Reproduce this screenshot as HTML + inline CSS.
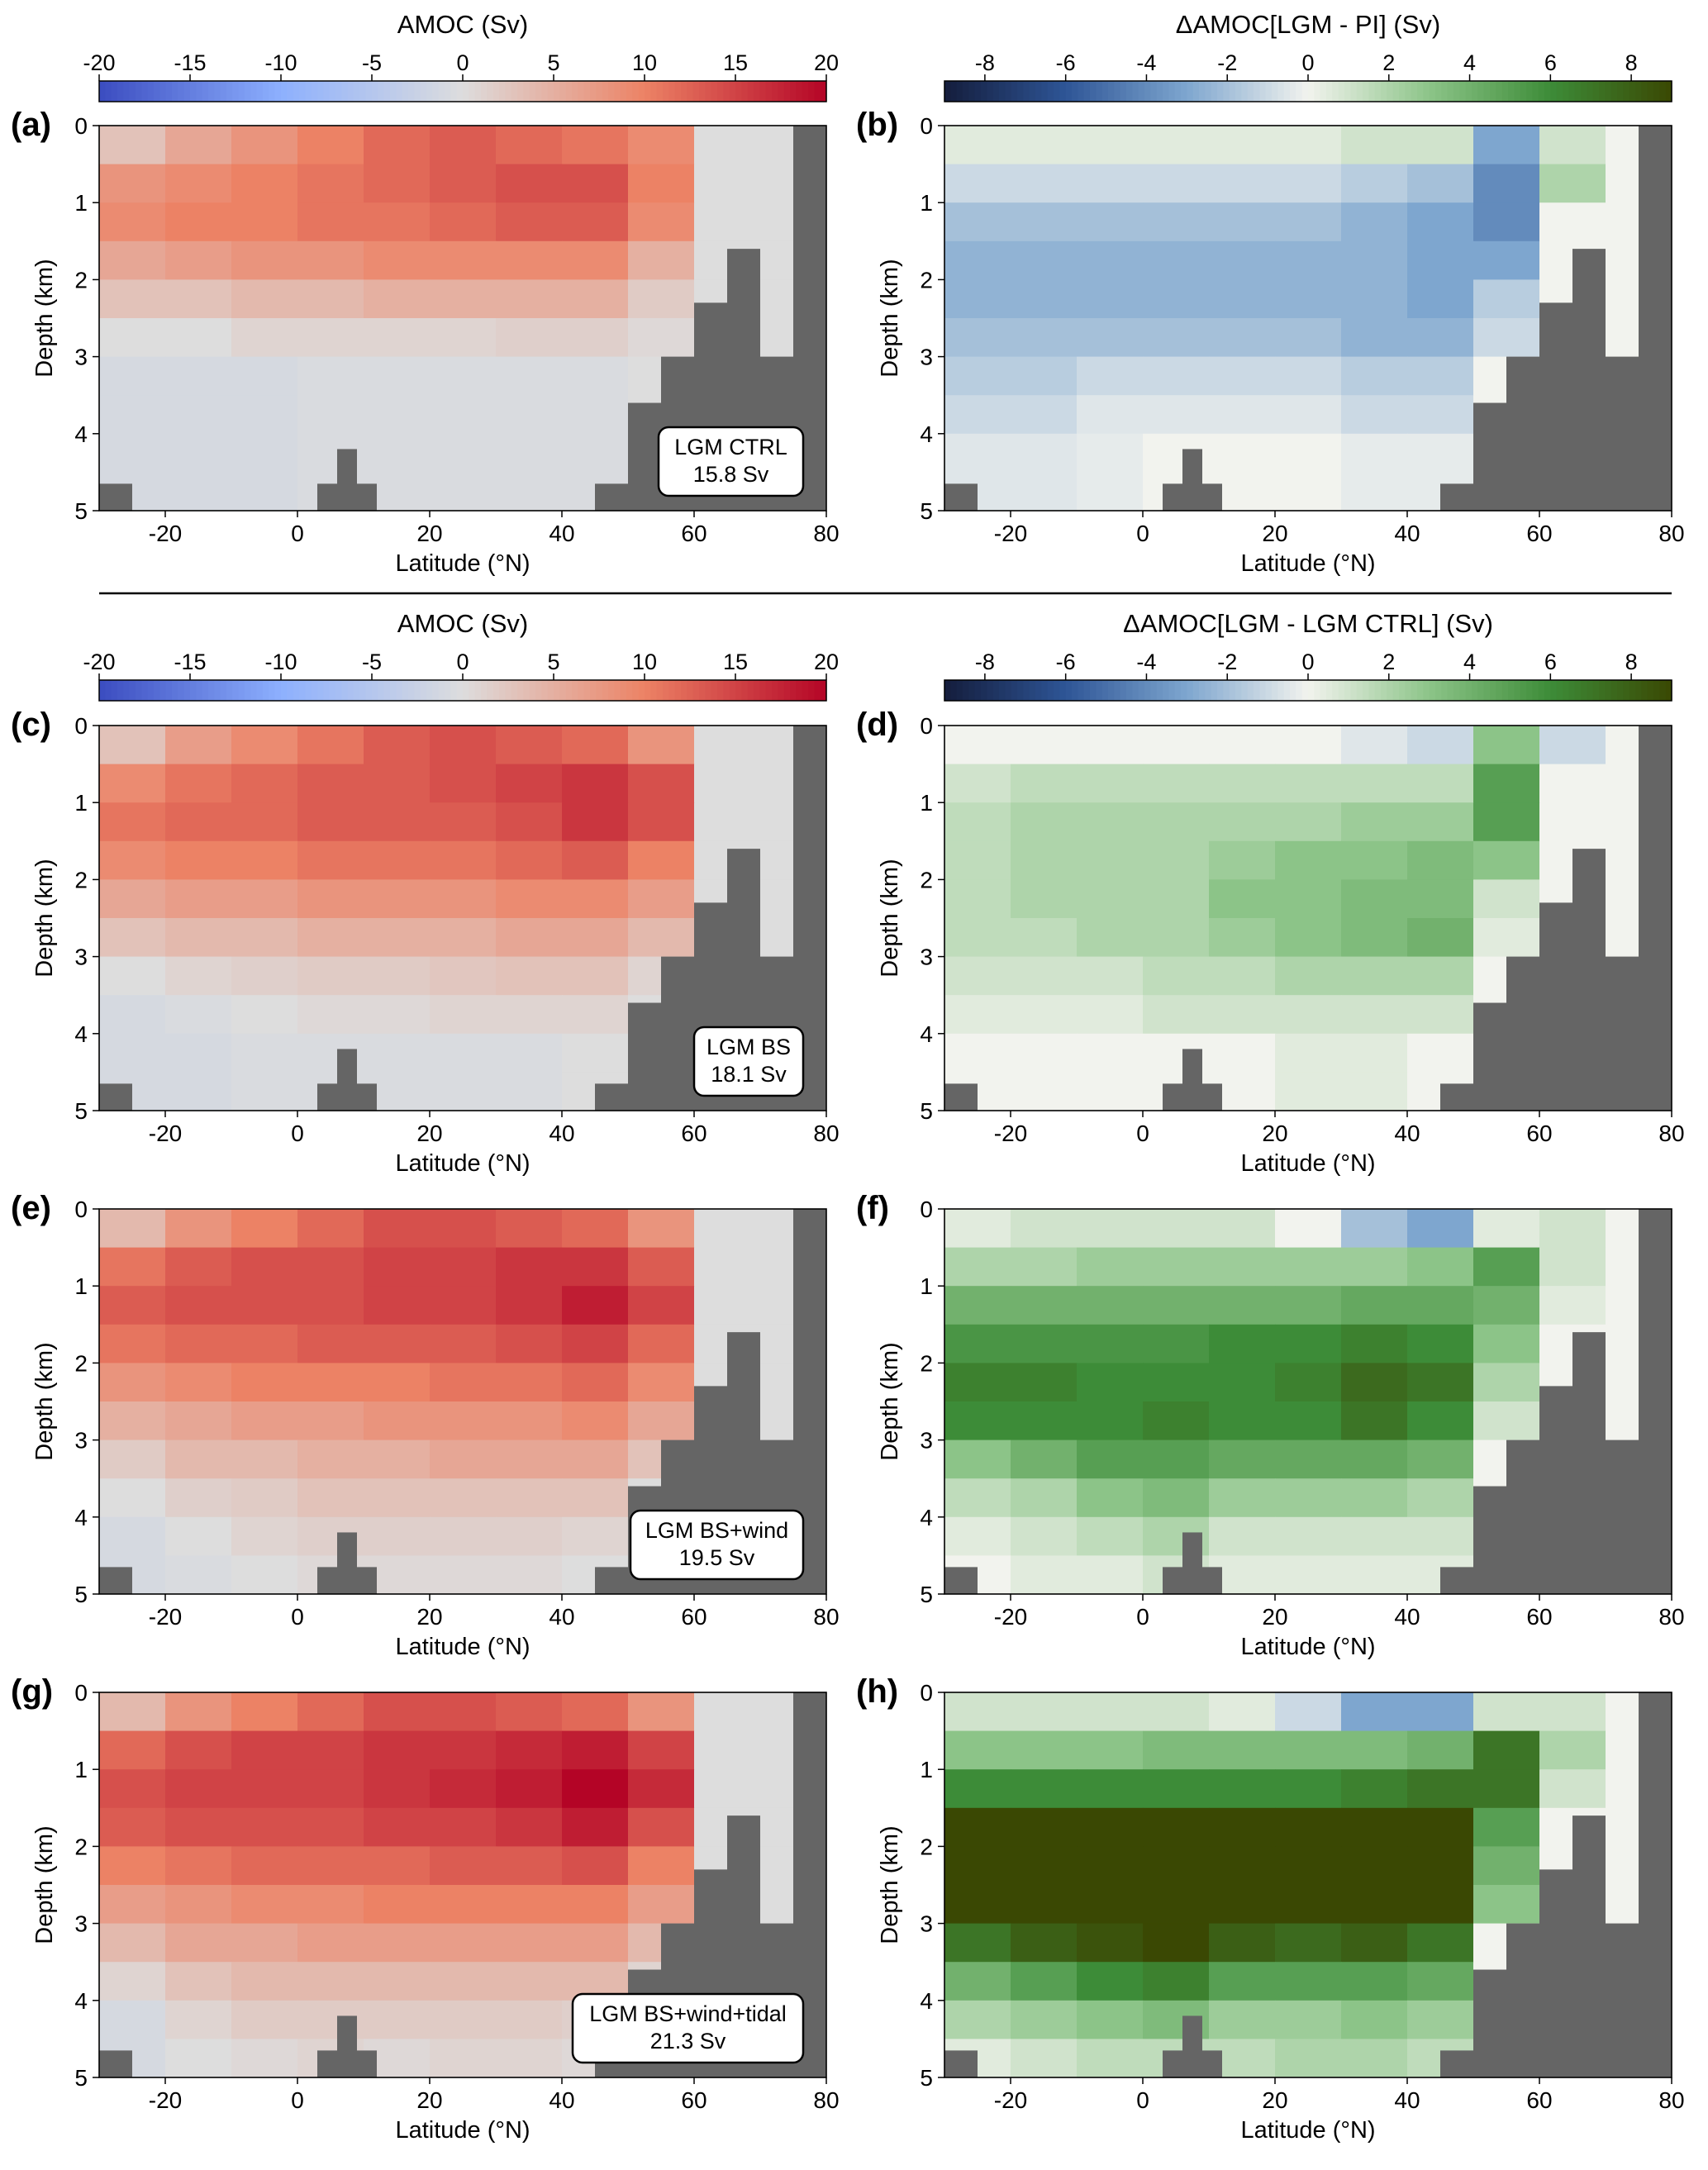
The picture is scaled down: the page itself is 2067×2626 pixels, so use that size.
<!DOCTYPE html>
<html><head><meta charset="utf-8"><style>
body{margin:0;background:#fff;}
svg{display:block;font-family:"Liberation Sans",sans-serif;}
</style></head><body>
<svg id="fig" width="2067" height="2626" viewBox="0 0 2067 2626" xmlns="http://www.w3.org/2000/svg"></svg>
<script>
const lats=[-25,-15,-5,5,15,25,35,45,55,65,75];
const depths=[0.25,0.75,1.25,1.75,2.25,2.75,3.25,3.75,4.25,4.75];
const xTicks=[-20,0,20,40,60,80];
const yTicks=[0,1,2,3,4,5];
const amocTicks=[-20,-15,-10,-5,0,5,10,15,20];
const diffTicks=[-8,-6,-4,-2,0,2,4,6,8];
const topo=[[-30,-25,4.65],[3,12,4.65],[6,9,4.2],[45,50,4.65],[50,55,3.6],[55,60,3.0],[60,65,2.3],[65,70,1.6],[70,75,3.0],[75,80,0]];
const dataA=[[3,6,8,10,12,13,12,11,9,0,0],[8,9,10,11,12,13,14,14,10,0,0],[9,10,10,11,11,12,13,13,9,0,0],[6,7,8,8,9,9,9,9,5,0,0],[3,3,4,4,5,5,5,5,2,0,0],[0,0,1,1,1,1,1.5,1.5,0.5,0,0],[-1,-1,-1,-0.5,-0.5,-0.5,-0.5,-0.5,0,0,0],[-1,-1,-1,-0.5,-0.5,-0.5,-0.5,-0.5,0,0,0],[-1,-1,-1,-0.5,-0.5,-0.5,-0.5,-0.5,0,0,0],[-1,-1,-1,-0.5,-0.5,-0.5,-0.5,-0.5,0,0,0]];
const dataC=[[3,7,9,11,13,14,13,12,8,0,0],[9,11,12,13,13,14,15,16,14,0,0],[11,12,12,13,13,13,14,16,14,0,0],[9,10,10,11,11,11,12,13,10,0,0],[6,7,7,8,8,8,9,9,7,0,0],[3,4,4,5,5,5,6,6,4,0,0],[0,1,1.5,2,2,2.5,3,3,1,0,0],[-1,-0.5,0,0.5,0.5,1,1,1,0,0,0],[-1,-1,-0.5,-0.5,-0.5,-0.5,-0.5,0,0,0,0],[-1,-1,-0.5,-0.5,-0.5,-0.5,-0.5,0,0,0,0]];
const dataE=[[4,8,10,12,14,14,13,12,8,0,0],[11,13,14,14,15,15,16,16,13,0,0],[13,14,14,14,15,15,16,18,15,0,0],[11,12,12,13,13,13,14,15,12,0,0],[8,9,10,10,10,11,11,12,9,0,0],[5,6,7,7,8,8,8,9,6,0,0],[2,4,4,5,5,6,6,6,3,0,0],[0,1.5,2,3,3,3,3,3,0,0,0],[-1,0,1,1.5,1.5,1.5,1.5,1,0,0,0],[-1,-0.5,0,0.5,0.5,0.5,0.5,0,0,0,0]];
const dataG=[[4,8,10,12,14,14,13,12,8,0,0],[12,14,15,15,16,16,17,18,15,0,0],[14,15,15,15,16,17,18,20,17,0,0],[13,14,14,14,15,15,16,18,14,0,0],[10,11,12,12,12,13,13,14,10,0,0],[7,8,9,9,10,10,10,10,7,0,0],[4,6,6,7,7,7,7,7,4,0,0],[1,3,4,4,4,4,4,4,1,0,0],[-1,1,2,2,2,2,2,1.5,0,0,0],[-1,0,0.5,1,0.5,1,1,0.5,0,0,0]];
const dataB=[[0.5,0.5,0.5,0.5,0.5,0.5,1,1,-3,1,0],[-1,-1,-1,-1,-1,-1,-1.5,-2,-4,2,0],[-2,-2,-2,-2,-2,-2,-2.5,-3,-4,0,0],[-2.5,-2.5,-2.5,-2.5,-2.5,-2.5,-2.5,-3,-3,0,0],[-2.5,-2.5,-2.5,-2.5,-2.5,-2.5,-2.5,-3,-1.5,0,0],[-2,-2,-2,-2,-2,-2,-2.5,-2.5,-1,0,0],[-1.5,-1.5,-1,-1,-1,-1,-1.5,-1.5,0,0,0],[-1,-1,-0.5,-0.5,-0.5,-0.5,-1,-1,0,0,0],[-0.5,-0.5,-0.3,0,0,0,-0.3,-0.3,0,0,0],[-0.5,-0.5,-0.3,0,0,0,-0.3,-0.3,0,0,0]];
const dataD=[[0,0,0,0,0,0,-0.5,-1,3,-1,0],[1,1.5,1.5,1.5,1.5,1.5,1.5,1.5,5,0,0],[1.5,2,2,2,2,2,2.5,2.5,5,0,0],[1.5,2,2,2,2.5,3,3,3.5,3,0,0],[1.5,2,2,2,3,3,3.5,3.5,1,0,0],[1.5,1.5,2,2,2.5,3,3.5,4,0.5,0,0],[1,1,1,1.5,1.5,2,2,2,0,0,0],[0.5,0.5,0.5,1,1,1,1,1,0,0,0],[0,0,0,0,0,0.5,0.5,0,0,0,0],[0,0,0,0,0,0.5,0.5,0,0,0,0]];
const dataF=[[0.5,1,1,1,1,0,-2,-3,0.5,1,0],[2,2,2.5,2.5,2.5,2.5,2.5,3,5,1,0],[4,4,4,4,4,4,4.5,4.5,4,0.5,0],[5.5,5.5,5.5,5.5,6,6,6.5,6,3,0,0],[6.5,6.5,6,6,6,6.5,7.5,7,2,0,0],[6,6,6,6.5,6,6,7,6,1,0,0],[3,4,5,5,4.5,4.5,4.5,4,0,0,0],[1.5,2,3,3.5,2.5,2.5,2.5,2,0,0,0],[0.5,1,1.5,2,1,1,1,1,0,0,0],[0,0.5,0.5,1,0.5,0.5,0.5,0.5,0,0,0]];
const dataH=[[1,1,1,1,0.5,-1,-3,-3,1,1,0],[3,3,3,3.5,3.5,3.5,3.5,4,7,2,0],[6,6,6,6,6,6,6.5,7,7,1,0],[9,9,9,9,9,9,9,9,5,0,0],[9,9,9,9,9,9,9,9,4,0,0],[9,9,9,9,9,9,9,9,3,0,0],[7,8,8.5,9,8,7.5,8,7,0,0,0],[4,5,6,6.5,5,5,5,4.5,0,0,0],[2,2.5,3,3.5,2.5,2.5,3,2.5,0,0,0],[0.5,1,1.5,1.5,1.5,2,2,1.5,0,0,0]];

const svg=document.getElementById('fig');
const NS='http://www.w3.org/2000/svg';
function el(tag,attrs,parent){const e=document.createElementNS(NS,tag);for(const k in attrs)e.setAttribute(k,attrs[k]);(parent||svg).appendChild(e);return e;}
function hex(h){return [parseInt(h.substr(1,2),16),parseInt(h.substr(3,2),16),parseInt(h.substr(5,2),16)];}
const cwStops=[[-20,'#3b4cc0'],[-10,'#8db0fe'],[0,'#dddddd'],[10,'#ec8265'],[20,'#b40426']];
const dlStops=[[-9,'#141d3c'],[-6,'#2e5596'],[-3,'#7ea6cf'],[0,'#f2f3ee'],[3,'#8cc488'],[6,'#3d8c38'],[9,'#3a4803']];
function cmap(stops,v){if(v<=stops[0][0])return stops[0][1];for(let i=1;i<stops.length;i++){if(v<=stops[i][0]){const t=(v-stops[i-1][0])/(stops[i][0]-stops[i-1][0]);const a=hex(stops[i-1][1]),b=hex(stops[i][1]);return 'rgb('+a.map((c,j)=>Math.round(c+(b[j]-c)*t)).join(',')+')';}}return stops[stops.length-1][1];}

function colorbar(x0,y0,w,h,stops,vmin,vmax,ticks,title,name){
  const g=el('g',{});
  
  
  const n=120;
  for(let i=0;i<n;i++){const v=vmin+(vmax-vmin)*(i+0.5)/n;el('rect',{x:x0+w*i/n,y:y0,width:w/n+0.6,height:h,fill:cmap(stops,v)},g);}
  el('rect',{x:x0,y:y0,width:w,height:h,fill:'none',stroke:'#000','stroke-width':1.5},g);
  const sx=v=>x0+(v-vmin)/(vmax-vmin)*w;
  ticks.forEach(t=>{el('line',{x1:sx(t),x2:sx(t),y1:y0,y2:y0-8,stroke:'#000','stroke-width':1.5},g);const tx=el('text',{x:sx(t),y:y0-13,'font-size':27,'text-anchor':'middle'},g);tx.textContent=t;});
  const tt=el('text',{x:x0+w/2,y:y0-58,'font-size':31,'text-anchor':'middle'},g);tt.textContent=title;
}

function panel(x0,y0,data,stops,letter,box,name){
  const W=880,H=466;
  const g=el('g',{});
  
  
  const sx=lat=>x0+(lat+30)/110*W;
  const sy=d=>y0+d/5*H;
  data.forEach((row,i)=>row.forEach((v,j)=>{
    const r=el('rect',{x:sx(lats[j]-5),y:sy(depths[i]-0.25),width:sx(lats[j]+5)-sx(lats[j]-5)+0.5,height:sy(depths[i]+0.25)-sy(depths[i]-0.25)+0.5,fill:cmap(stops,v)},g);
    
    
  }));
  topo.forEach(t=>{const r=el('rect',{x:sx(t[0]),y:sy(t[2]),width:sx(t[1])-sx(t[0]),height:sy(5)-sy(t[2]),fill:'#656565'},g);
    
    });
  el('rect',{x:x0,y:y0,width:W,height:H,fill:'none',stroke:'#000','stroke-width':1.6},g);
  xTicks.forEach(t=>{el('line',{x1:sx(t),x2:sx(t),y1:y0+H,y2:y0+H+8,stroke:'#000','stroke-width':1.5},g);const tx=el('text',{x:sx(t),y:y0+H+37,'font-size':28,'text-anchor':'middle'},g);tx.textContent=t;});
  yTicks.forEach(t=>{el('line',{x1:x0,x2:x0-8,y1:sy(t),y2:sy(t),stroke:'#000','stroke-width':1.5},g);const tx=el('text',{x:x0-14,y:sy(t)+10,'font-size':28,'text-anchor':'end'},g);tx.textContent=t;});
  const xl=el('text',{x:x0+W/2,y:y0+H+73,'font-size':29,'text-anchor':'middle'},g);xl.textContent='Latitude (°N)';
  
  const yl=el('text',{x:0,y:0,'font-size':29,'text-anchor':'middle',transform:`translate(${x0-57},${y0+H/2}) rotate(-90)`},g);yl.textContent='Depth (km)';
  
  const lt=el('text',{x:x0-107,y:y0+12,'font-size':40,'font-weight':'bold'},g);lt.textContent=letter;
  
  if(box){
    const bg=el('g',{},g);
    
    
    el('rect',{x:x0+W-28-box.w,y:y0+H-18-83,width:box.w,height:83,rx:12,fill:'#fff',stroke:'#000','stroke-width':2.5},bg);
    const cx=x0+W-28-box.w/2;
    const t1=el('text',{x:cx,y:y0+H-18-50,'font-size':27,'text-anchor':'middle'},bg);t1.textContent=box.l1;
    const t2=el('text',{x:cx,y:y0+H-18-17,'font-size':27,'text-anchor':'middle'},bg);t2.textContent=box.l2;
  }
}

colorbar(120,98,880,25,cwStops,-20,20,amocTicks,'AMOC (Sv)','colorbar-amoc-top');
colorbar(1143,98,880,25,dlStops,-9,9,diffTicks,'ΔAMOC[LGM - PI] (Sv)','colorbar-diff-top');
colorbar(120,823,880,25,cwStops,-20,20,amocTicks,'AMOC (Sv)','colorbar-amoc-bottom');
colorbar(1143,823,880,25,dlStops,-9,9,diffTicks,'ΔAMOC[LGM - LGM CTRL] (Sv)','colorbar-diff-bottom');
const sep=el('line',{x1:120,x2:2023,y1:718,y2:718,stroke:'#000','stroke-width':2.5});



panel(120,152,dataA,cwStops,'(a)',{w:175,l1:'LGM CTRL',l2:'15.8 Sv'},'panel-a');
panel(1143,152,dataB,dlStops,'(b)',null,'panel-b');
panel(120,878,dataC,cwStops,'(c)',{w:132,l1:'LGM BS',l2:'18.1 Sv'},'panel-c');
panel(1143,878,dataD,dlStops,'(d)',null,'panel-d');
panel(120,1463,dataE,cwStops,'(e)',{w:209,l1:'LGM BS+wind',l2:'19.5 Sv'},'panel-e');
panel(1143,1463,dataF,dlStops,'(f)',null,'panel-f');
panel(120,2048,dataG,cwStops,'(g)',{w:279,l1:'LGM BS+wind+tidal',l2:'21.3 Sv'},'panel-g');
panel(1143,2048,dataH,dlStops,'(h)',null,'panel-h');
</script>
</body></html>
